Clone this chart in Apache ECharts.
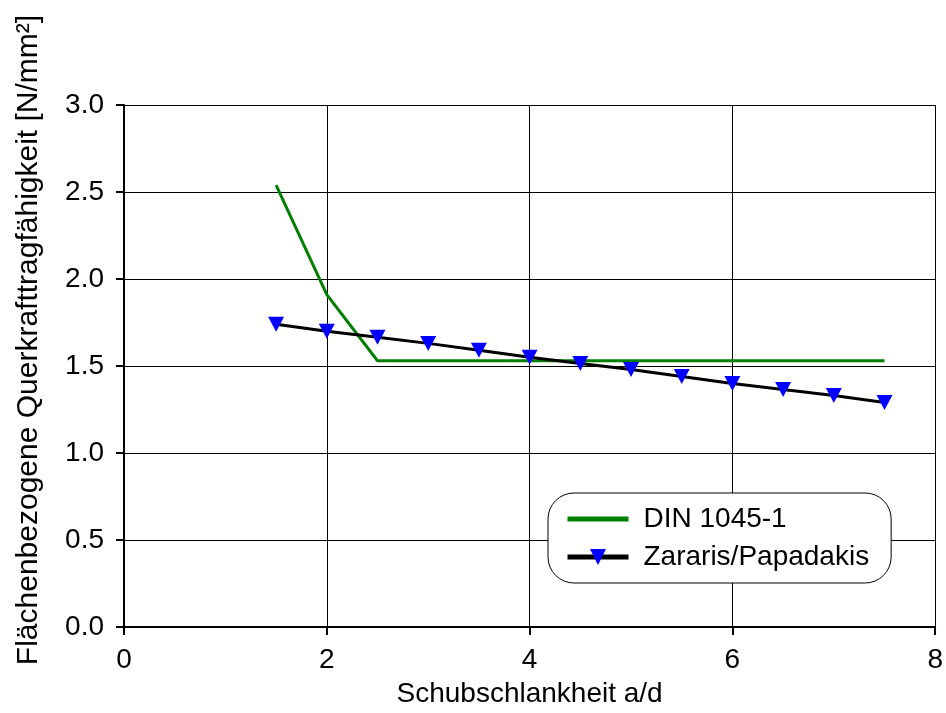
<!DOCTYPE html>
<html><head><meta charset="utf-8">
<script src="https://cdn.jsdelivr.net/npm/echarts@6/dist/echarts.min.js"></script>
<style>html,body{margin:0;padding:0;background:#fff}#c{width:946px;height:713px}</style>
</head><body><div id="c"></div>
<script>
const dinX = [1.5, 2.0, 2.5, 7.5];
const dinY = [2.54, 1.91, 1.53, 1.53];
const zpX = [1.5, 2.0, 2.5, 3.0, 3.5, 4.0, 4.5, 5.0, 5.5, 6.0, 6.5, 7.0, 7.5];
const zpY = [1.74, 1.70, 1.665, 1.63, 1.59, 1.55, 1.515, 1.48, 1.44, 1.40, 1.365, 1.33, 1.29];
const seriesNames = ['DIN 1045-1', 'Zararis/Papadakis'];
const xTitle = 'Schubschlankheit a/d';
const yTitle = 'Flächenbezogene Querkrafttragfähigkeit [N/mm²]';

const font = 'Liberation Sans, Arial, sans-serif';
const chart = echarts.init(document.getElementById('c'));
chart.setOption({
  animation: false,
  grid: {left: 124, right: 7, top: 105, bottom: 86},
  xAxis: {
    type: 'value', min: 0, max: 8, interval: 2,
    name: xTitle, nameLocation: 'middle', nameGap: 53,
    nameTextStyle: {fontFamily: font, fontSize: 28, color: '#000'},
    axisLine: {show: true, onZero: false, lineStyle: {color: '#000', width: 2}},
    axisTick: {show: true, length: 8, lineStyle: {color: '#000', width: 2}},
    axisLabel: {fontFamily: font, fontSize: 28, color: '#000', margin: 19},
    splitLine: {show: true, lineStyle: {color: '#000', width: 1}}
  },
  yAxis: {
    type: 'value', min: 0, max: 3, interval: 0.5,
    name: yTitle, nameLocation: 'middle', nameGap: 80,
    nameTextStyle: {fontFamily: font, fontSize: 30, color: '#000', padding: [0, 0, 0, 52]},
    axisLine: {show: true, onZero: false, lineStyle: {color: '#000', width: 2}},
    axisTick: {show: true, length: 8, lineStyle: {color: '#000', width: 2}},
    axisLabel: {fontFamily: font, fontSize: 28, color: '#000', margin: 20,
      formatter: v => v.toFixed(1)},
    splitLine: {show: true, lineStyle: {color: '#000', width: 1}}
  },
  legend: {
    orient: 'vertical', left: 548, top: 493,
    padding: [12, 22, 12, 17],
    itemGap: 10, itemWidth: 61, itemHeight: 20,
    borderColor: '#000', borderWidth: 1, borderRadius: 26,
    backgroundColor: '#fff',
    lineStyle: {width: 5},
    textStyle: {fontFamily: font, fontSize: 28, color: '#000', padding: [0, 0, 0, 10]},
    data: [
      {name: seriesNames[0], icon: 'path://M0,0 L61,0 L61,5 L0,5 Z'},
      {name: seriesNames[1]}
    ]
  },
  series: [
    {name: seriesNames[0], type: 'line', data: dinX.map((x, i) => [x, dinY[i]]),
     symbol: 'none', lineStyle: {color: '#008000', width: 3}, itemStyle: {color: '#008000'}},
    {name: seriesNames[1], type: 'line', data: zpX.map((x, i) => [x, zpY[i]]),
     symbol: 'triangle', symbolSize: [16, 15], symbolRotate: 180, showAllSymbol: true,
     lineStyle: {color: '#000', width: 3}, itemStyle: {color: '#0000ff'}}
  ]
});
</script></body></html>
